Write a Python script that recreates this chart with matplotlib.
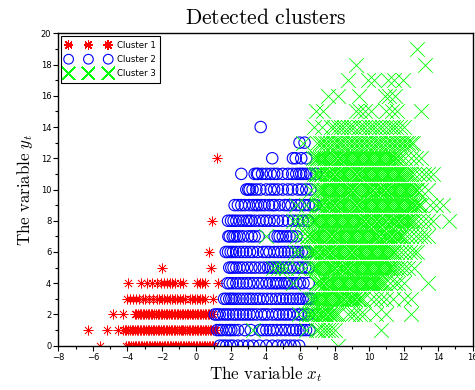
import matplotlib
matplotlib.use("Agg")
import matplotlib.pyplot as plt

plt.rcParams["mathtext.fontset"] = "cm"
plt.rcParams["font.family"] = ["DejaVu Sans"]

# x positions of the points of each cluster, grouped by integer level of y_t
cluster1_rows = {
    0: [-5.6, -4.05, -3.96, -3.88, -3.77, -3.69, -3.58, -3.5, -3.41, -3.3, -3.22, -3.13, -3.02, -2.94,
        -2.85, -2.74, -2.66, -2.57, -2.46, -2.38, -2.29, -2.18, -2.1, -2.01, -1.9, -1.82, -1.73, -1.62,
        -1.54, -1.45, -1.34, -1.26, -1.17, -1.06, -0.98, -0.89, -0.78, -0.7, -0.61, -0.5, -0.42, -0.33,
        -0.22, -0.14, -0.05, 0.06, 0.14, 0.23, 0.34, 0.42, 0.51, 0.62, 0.7, 0.79, 0.9, 0.98, 1.06],
    1: [-6.28, -5.18, -4.52, -4.24, -4.13, -4.05, -3.94, -3.86, -3.75, -3.67, -3.56, -3.47, -3.39, -3.28,
        -3.2, -3.09, -3.01, -2.9, -2.81, -2.73, -2.62, -2.54, -2.43, -2.35, -2.24, -2.15, -2.07, -1.96,
        -1.88, -1.77, -1.69, -1.58, -1.49, -1.41, -1.3, -1.22, -1.11, -1.03, -0.92, -0.83, -0.75, -0.64,
        -0.56, -0.45, -0.37, -0.26, -0.17, -0.09, 0.02, 0.1, 0.21, 0.29, 0.4, 0.49, 0.57, 0.68, 0.76,
        0.87, 0.95, 1.06, 1.16],
    2: [-4.86, -4.24, -3.57, -3.48, -3.4, -3.29, -3.21, -3.1, -3.02, -2.91, -2.82, -2.74, -2.63, -2.55,
        -2.44, -2.36, -2.25, -2.16, -2.08, -1.97, -1.89, -1.78, -1.7, -1.59, -1.5, -1.42, -1.31, -1.23,
        -1.12, -1.04, -0.93, -0.84, -0.76, -0.65, -0.57, -0.46, -0.38, -0.27, -0.18, -0.1, 0.01, 0.09,
        0.2, 0.28, 0.39, 0.48, 0.56, 0.67, 0.75, 0.86, 0.97],
    3: [-4.0, -3.85, -3.7, -3.5, -3.3, -3.1, -2.95, -2.75, -2.5, -2.3, -2.15, -2.0, -1.85, -1.7, -1.55,
        -1.4, -1.25, -1.1, -0.95, -0.8, -0.65, -0.4, -0.25, -0.1, 0.05, 0.2, 0.35, 0.5, 0.97],
    4: [-3.95, -3.2, -2.85, -2.6, -2.3, -2.05, -1.85, -1.7, -1.55, -1.4, -1.25, -0.95, -0.75, 0.05,
        0.2, 0.35, 0.5, 1.25],
    5: [-1.97, 0.87],
    6: [0.71],
    8: [0.92],
    12: [1.21],
}

cluster2_rows = {
    0: [1.35, 1.55, 1.73, 1.95, 2.12, 2.4, 2.7, 3.0, 3.28, 3.65, 4.05, 4.4, 4.72, 5.0, 5.2, 5.45, 5.68, 5.95],
    1: [1.2, 1.35, 1.5, 1.73, 1.9, 2.02, 2.2, 2.41, 2.8, 3.15, 3.66, 3.85, 4.05, 4.25, 4.43, 4.65, 4.91,
        5.15, 5.39, 5.6, 5.78, 6.0, 6.17, 6.35, 6.55],
    2: [1.06, 1.2, 1.35, 1.55, 1.73, 1.9, 2.12, 2.3, 2.5, 2.7, 2.89, 3.08, 3.28, 3.5, 3.76, 3.95, 4.14,
        4.4, 4.62, 4.8, 5.01, 5.2, 5.39, 5.6, 5.88, 6.05, 6.26, 6.5],
    3: [1.6, 1.73, 1.9, 2.02, 2.15, 2.31, 2.5, 2.7, 2.9, 3.08, 3.25, 3.47, 3.65, 3.86, 4.1, 4.34, 4.6,
        4.82, 5.0, 5.2, 5.4, 5.59, 5.8, 5.97, 6.15, 6.36, 6.5, 6.65],
    4: [1.8, 1.93, 2.1, 2.31, 2.5, 2.7, 2.9, 3.08, 3.3, 3.57, 3.8, 4.05, 4.25, 4.43, 4.6, 4.72, 4.9,
        5.1, 5.25, 5.39, 5.6, 5.8, 6.0, 6.2, 6.5],
    5: [1.9, 2.02, 2.15, 2.31, 2.5, 2.7, 2.95, 3.18, 3.4, 3.66, 3.9, 4.14, 4.3, 4.43, 4.6, 4.75, 5.0,
        5.2, 5.4, 5.65, 5.9, 6.1, 6.3, 6.5],
    6: [1.7, 1.83, 1.98, 2.12, 2.3, 2.5, 2.7, 2.89, 3.1, 3.28, 3.55, 3.86, 4.05, 4.24, 4.5, 4.72, 4.91,
        5.1, 5.3, 5.5, 5.7, 5.9, 6.1, 6.3, 6.45],
    7: [1.85, 1.93, 2.1, 2.21, 2.35, 2.5, 2.7, 2.99, 3.2, 3.37, 3.6, 4.53, 4.7, 4.82, 5.0, 5.2, 5.39,
        5.55, 5.8],
    8: [1.83, 2.0, 2.15, 2.31, 2.5, 2.7, 2.9, 3.05, 3.18, 3.4, 3.66, 3.86, 4.05, 4.24, 4.5, 4.72, 5.0,
        5.3, 5.6, 5.88, 6.15, 6.46],
    9: [2.21, 2.4, 2.6, 2.8, 3.05, 3.28, 3.45, 3.57, 3.75, 3.95, 4.2, 4.4, 4.53, 4.8, 5.11, 5.3, 5.5,
        5.78, 6.0, 6.26, 6.5, 6.75, 6.9],
    10: [2.89, 3.0, 3.08, 3.25, 3.47, 3.7, 4.05, 4.3, 4.5, 4.72, 5.0, 5.3, 5.55, 5.88, 6.1, 6.36, 6.6],
    11: [2.6, 3.37, 3.5, 3.57, 3.8, 4.05, 4.3, 4.5, 4.68, 5.0, 5.3, 5.55, 5.78, 5.95, 6.07, 6.2, 6.36,
         6.6, 6.94],
    12: [4.39, 5.59, 5.75, 6.07, 6.36],
    13: [5.97, 6.26],
    14: [3.72],
}

cluster3_rows = {
    0: [8.2],
    1: [3.3, 6.36, 6.9, 7.03, 7.25, 7.42, 7.6, 7.8, 8.0, 10.7],
    2: [5.95, 6.35, 6.5, 6.58, 6.7, 6.8, 6.89, 7.02, 7.13, 7.21, 7.33, 7.43, 7.52, 7.65, 7.76, 7.84,
        7.96, 8.07, 8.2, 8.8, 9.0, 9.2, 9.45, 9.7, 10.4, 11.0, 12.4],
    3: [6.6, 6.68, 6.8, 6.9, 6.99, 7.12, 7.23, 7.31, 7.43, 7.53, 7.62, 7.75, 7.86, 7.94, 8.06, 8.17,
        8.25, 8.38, 8.48, 8.57, 8.7, 8.81, 8.89, 9.01, 9.12, 9.21, 9.34, 9.44, 9.52, 9.65, 10.1, 10.4,
        10.7, 11.0, 11.4, 12.0, 12.4],
    4: [5.6, 6.9, 6.98, 7.1, 7.2, 7.29, 7.42, 7.53, 7.61, 7.73, 7.83, 7.92, 8.05, 8.16, 8.24, 8.36,
        8.47, 8.55, 8.68, 8.78, 8.87, 9.0, 9.11, 9.19, 9.31, 9.42, 9.51, 9.64, 9.74, 9.82, 9.95, 10.06,
        10.14, 10.27, 10.37, 10.46, 10.59, 10.7, 10.78, 10.9, 11.2, 11.5, 11.7, 12.0, 13.4],
    5: [4.45, 4.7, 4.95, 5.2, 5.9, 6.3, 6.7, 6.79, 6.91, 7.01, 7.1, 7.23, 7.34, 7.42, 7.54, 7.65, 7.73,
        7.86, 7.96, 8.05, 8.18, 8.29, 8.37, 8.49, 8.6, 8.68, 8.81, 8.91, 9.0, 9.13, 9.24, 9.32, 9.44,
        9.55, 9.63, 9.76, 9.86, 9.95, 10.08, 10.19, 10.27, 10.39, 10.5, 10.58, 10.71, 10.81, 10.9,
        11.03, 11.14, 11.22, 11.34, 11.42, 11.6, 11.8, 12.0, 12.25, 12.6],
    6: [5.7, 5.95, 6.5, 6.61, 6.69, 6.82, 6.92, 7.01, 7.14, 7.25, 7.33, 7.45, 7.56, 7.64, 7.77, 7.87,
        7.96, 8.09, 8.2, 8.28, 8.4, 8.51, 8.59, 8.72, 8.82, 8.91, 9.04, 9.15, 9.23, 9.35, 9.46, 9.54,
        9.67, 9.77, 9.86, 9.99, 10.1, 10.18, 10.3, 10.41, 10.49, 10.62, 10.72, 10.81, 10.94, 11.05,
        11.13, 11.25, 11.36, 11.44, 11.6, 11.85, 12.1, 12.35, 12.6, 12.8],
    7: [4.05, 5.8, 6.1, 6.4, 6.49, 6.61, 6.71, 6.8, 6.93, 7.04, 7.12, 7.24, 7.35, 7.43, 7.56, 7.66,
        7.75, 7.88, 7.99, 8.07, 8.19, 8.3, 8.38, 8.51, 8.61, 8.7, 8.83, 8.94, 9.02, 9.14, 9.25, 9.33,
        9.46, 9.56, 9.65, 9.78, 9.89, 9.97, 10.09, 10.2, 10.28, 10.41, 10.51, 10.6, 10.73, 10.84,
        10.92, 11.04, 11.15, 11.23, 11.36, 11.46, 11.55, 11.68, 11.79, 11.87, 11.99, 12.2, 12.45,
        12.7, 12.95, 13.2, 13.4],
    8: [5.6, 5.85, 6.1, 6.3, 6.5, 6.7, 6.8, 6.88, 7.01, 7.11, 7.2, 7.33, 7.44, 7.52, 7.64, 7.75, 7.83,
        7.96, 8.06, 8.15, 8.28, 8.39, 8.47, 8.59, 8.7, 8.78, 8.91, 9.01, 9.1, 9.23, 9.34, 9.42, 9.54,
        9.65, 9.73, 9.86, 9.96, 10.05, 10.18, 10.29, 10.37, 10.49, 10.6, 10.68, 10.81, 10.91, 11.0,
        11.13, 11.24, 11.32, 11.44, 11.55, 11.63, 11.76, 11.86, 11.95, 12.08, 12.19, 12.27, 12.39,
        12.5, 12.6, 12.85, 13.1, 13.4, 13.7, 14.6],
    9: [5.78, 6.36, 6.9, 6.99, 7.11, 7.21, 7.3, 7.43, 7.54, 7.62, 7.74, 7.85, 7.93, 8.06, 8.16, 8.25,
        8.38, 8.49, 8.57, 8.69, 8.8, 8.88, 9.01, 9.11, 9.2, 9.33, 9.44, 9.52, 9.64, 9.75, 9.83, 9.96,
        10.06, 10.15, 10.28, 10.39, 10.47, 10.59, 10.7, 10.78, 10.91, 11.01, 11.1, 11.23, 11.34,
        11.42, 11.54, 11.65, 11.73, 11.86, 11.96, 12.05, 12.18, 12.29, 12.37, 12.49, 12.6, 12.68,
        12.81, 12.91, 13.0, 13.5, 13.9, 14.3],
    10: [6.65, 7.0, 7.08, 7.21, 7.31, 7.4, 7.53, 7.64, 7.72, 7.84, 7.95, 8.03, 8.16, 8.26, 8.35, 8.48,
         8.59, 8.67, 8.79, 8.9, 8.98, 9.11, 9.21, 9.3, 9.43, 9.54, 9.62, 9.74, 9.85, 9.93, 10.06,
         10.16, 10.25, 10.38, 10.49, 10.57, 10.69, 10.8, 10.88, 11.01, 11.11, 11.2, 11.33, 11.44,
         11.52, 11.64, 11.75, 11.83, 11.96, 12.06, 12.15, 12.28, 12.39, 12.47, 12.59, 12.7, 12.8,
         13.0, 13.4],
    11: [6.8, 6.9, 6.98, 7.11, 7.21, 7.3, 7.43, 7.54, 7.62, 7.74, 7.85, 7.93, 8.06, 8.16, 8.25, 8.38,
         8.49, 8.57, 8.69, 8.8, 8.88, 9.01, 9.11, 9.2, 9.33, 9.44, 9.52, 9.64, 9.75, 9.83, 9.96,
         10.06, 10.15, 10.28, 10.39, 10.47, 10.59, 10.7, 10.78, 10.91, 11.01, 11.1, 11.23, 11.34,
         11.42, 11.54, 11.65, 11.73, 11.86, 11.96, 12.05, 12.18, 12.29, 12.4, 12.6, 12.9, 13.2,
         13.4, 13.7],
    12: [6.75, 6.84, 6.96, 7.06, 7.15, 7.28, 7.39, 7.47, 7.59, 7.7, 7.78, 7.91, 8.01, 8.1, 8.23, 8.34,
         8.42, 8.54, 8.65, 8.73, 8.86, 8.96, 9.05, 9.18, 9.29, 9.37, 9.49, 9.6, 9.68, 9.81, 9.91,
         10.0, 10.13, 10.24, 10.32, 10.44, 10.55, 10.63, 10.76, 10.86, 10.95, 11.08, 11.19, 11.27,
         11.39, 11.5, 11.58, 11.71, 11.85, 12.1, 12.4, 12.7, 13.0],
    13: [6.17, 7.0, 7.13, 7.3, 7.44, 7.57, 7.74, 7.88, 8.01, 8.18, 8.32, 8.45, 8.62, 8.76, 8.89, 9.06,
         9.2, 9.33, 9.5, 9.64, 9.77, 9.94, 10.08, 10.21, 10.38, 10.52, 10.65, 10.82, 10.96, 11.09,
         11.26, 11.4, 11.53, 11.7, 11.84, 11.97, 12.14, 12.28, 12.41, 12.55],
    14: [6.8, 7.3, 7.8, 7.97, 8.2, 8.38, 8.55, 8.8, 8.97, 9.15, 9.4, 9.57, 9.75, 10.0, 10.17, 10.35,
         10.6, 10.77, 10.95, 11.2, 11.37, 11.55, 11.8, 12.0],
    15: [6.94, 7.32, 9.25, 9.5, 9.75, 10.1, 11.0, 11.3, 11.6, 13.0],
    16: [7.6, 8.2, 9.44, 10.9, 11.15, 11.5],
    17: [8.77, 9.96, 10.3, 11.08, 11.46, 11.95],
    18: [9.25, 13.24],
    19: [12.8],
}

cluster_labels = ["Cluster 1", "Cluster 2", "Cluster 3"]
x_ticks = list(range(-8, 17, 2))
y_ticks = list(range(0, 21, 2))


def flatten(rows):
    xs, ys = [], []
    for level, values in rows.items():
        xs.extend(values)
        ys.extend([level] * len(values))
    return xs, ys


fig = plt.figure(figsize=(4.75, 3.9), dpi=100)
ax = fig.add_axes([0.1227, 0.1136, 0.8725, 0.801])

# asterisk and cross are line-only marks drawn crisp; the open circle is smoothed
styles = [
    dict(marker=(8, 2, 0), s=6.8 ** 2, c="#ff0000", linewidths=0.5, antialiased=False),
    dict(marker="o", s=8.2 ** 2, facecolors="none", edgecolors="#0000ff", linewidths=0.8,
         antialiased=True),
    dict(marker="x", s=10.5 ** 2, c="#00ff00", linewidths=0.6, antialiased=False),
]
for rows, label, st in zip([cluster1_rows, cluster2_rows, cluster3_rows], cluster_labels, styles):
    xs, ys = flatten(rows)
    ax.scatter(xs, ys, label=label, **st)

ax.set_xlim(-8, 16)
ax.set_ylim(0, 20)
ax.set_xticks(x_ticks)
ax.set_xticks(list(range(-7, 16, 2)), minor=True)
ax.set_yticks(y_ticks)
ax.set_yticks(list(range(1, 20, 2)), minor=True)
ax.tick_params(which="major", direction="out", length=3.5, width=0.8, labelsize=6, pad=1.5,
               top=False, right=False)
ax.tick_params(which="minor", direction="out", length=2.0, width=0.8, top=False, right=False)
for sp in ax.spines.values():
    sp.set_linewidth(1.0)
    sp.set_color("black")

ax.set_title(r"$\mathrm{Detected\ clusters}$", fontsize=15.5, pad=7)
ax.set_xlabel(r"$\mathrm{The\ variable\ }x_t$", fontsize=12.2, labelpad=1.5)
ax.set_ylabel(r"$\mathrm{The\ variable\ }y_t$", fontsize=12.2, labelpad=4)

leg = ax.legend(loc="upper left", scatterpoints=3, scatteryoffsets=[0.5], fontsize=6.2,
                markerscale=0.85, handlelength=5.2, handletextpad=0.7, borderpad=0.55,
                borderaxespad=0.35, labelspacing=0.6, fancybox=False, framealpha=1,
                edgecolor="black")
leg.get_frame().set_linewidth(0.8)

fig.savefig("out.png", dpi=100)
